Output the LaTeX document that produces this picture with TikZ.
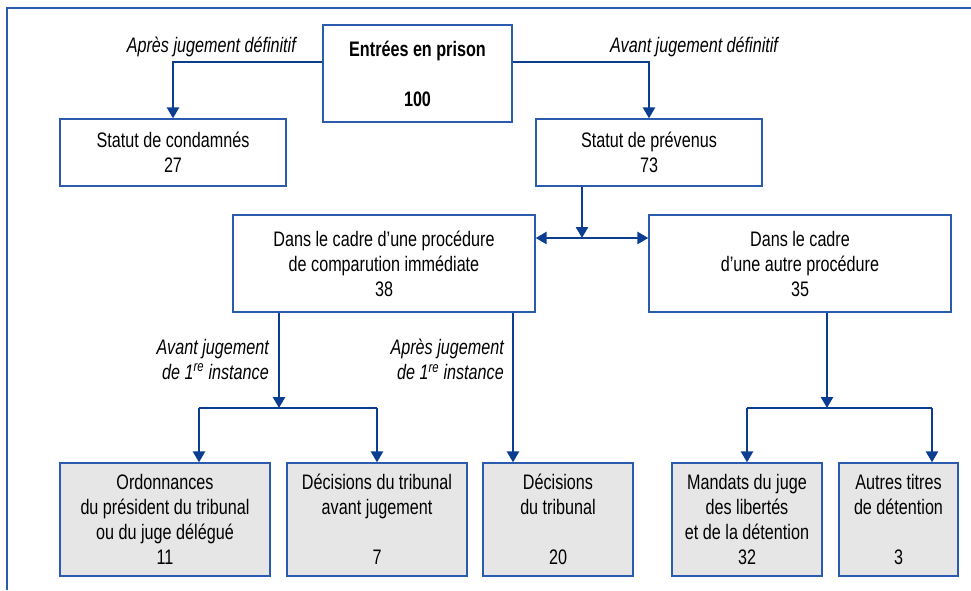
\documentclass[tikz,border=0pt]{standalone}
\usepackage{fontspec}
\setmainfont{Liberation Sans}[FakeStretch=0.77]
\usetikzlibrary{arrows.meta}
\definecolor{bleucadre}{HTML}{2B5BAE}
\definecolor{bleufleche}{HTML}{0B3D91}
\definecolor{grisboite}{HTML}{E6E6E6}

\begin{document}
\begin{tikzpicture}[x=1pt,y={(0pt,-1pt)}]
    \tikzset{boite/.style={draw=bleucadre, line width=1.3pt, fill=white,
        align=center, inner sep=0pt, font=\fontsize{21}{25}\selectfont}}
    \tikzset{boitegrise/.style={boite, fill=grisboite}}
    \tikzset{trait/.style={draw=bleufleche, line width=2.6pt}}
    \tikzset{fleche/.style={trait, -{Triangle[length=11pt,width=12pt]}}}
    \tikzset{etiquette/.style={inner sep=0pt, font=\fontsize{21}{25}\selectfont\itshape}}
    \useasboundingbox (0,0) rectangle (971,590);
    \draw[bleucadre, line width=2pt] (7,590) -- (7,8) -- (971,8);
    % premier niveau
    \node[boite, font=\fontsize{21}{25}\selectfont\bfseries, minimum width=189pt, minimum height=97pt]
      (entree) at (417.5,73.5) {Entrées en prison\\[25pt]100};
    \node[boite, minimum width=226pt, minimum height=67pt]
      (condamnes) at (173,152.5) {Statut de condamnés\\27};
    \node[boite, minimum width=226pt, minimum height=67pt]
      (prevenus) at (649,152.5) {Statut de prévenus\\73};
    \node[etiquette, anchor=east] (apresdef) at (296,47) {Après jugement définitif};
    \node[etiquette, anchor=west] (avantdef) at (610,47) {Avant jugement définitif};
    \draw[fleche] (entree.west |- 0,62) -| (condamnes.north);
    \draw[fleche] (entree.east |- 0,62) -| (prevenus.north);
    % procedures
    \node[boite, minimum width=302pt, minimum height=97pt]
      (comparution) at (384,263.5) {Dans le cadre d’une procédure\\de comparution immédiate\\38};
    \node[boite, minimum width=302pt, minimum height=97pt]
      (autre) at (800,263.5) {Dans le cadre\\d’une autre procédure\\35};
    \coordinate (jonction) at (582,238);
    \draw[fleche] (prevenus.south -| jonction) -- (jonction);
    \draw[fleche] (jonction) -- (comparution.east |- jonction);
    \draw[fleche] (jonction) -- (autre.west |- jonction);
    % titres de detention
    \node[boitegrise, minimum width=210pt, minimum height=113pt]
      (ordonnances) at (165,519.5) {Ordonnances\\du président du tribunal\\ou du juge délégué\\11};
    \node[boitegrise, minimum width=180pt, minimum height=113pt]
      (decavant) at (377,519.5) {Décisions du tribunal\\avant jugement\\[25pt]7};
    \node[boitegrise, minimum width=150pt, minimum height=113pt]
      (decisions) at (558,519.5) {Décisions\\du tribunal\\[25pt]20};
    \node[boitegrise, minimum width=150pt, minimum height=113pt]
      (mandats) at (747,519.5) {Mandats du juge\\des libertés\\et de la détention\\32};
    \node[boitegrise, minimum width=119pt, minimum height=113pt]
      (autres) at (898.5,519.5) {Autres titres\\de détention\\[25pt]3};
    \node[etiquette, align=right, anchor=east] (avantinst) at (269,359.5)
      {Avant jugement\\de 1\textsuperscript{re} instance};
    \node[etiquette, align=right, anchor=east] (apresinst) at (504,359.5)
      {Après jugement\\de 1\textsuperscript{re} instance};
    \coordinate (brancheA) at (279,408);
    \coordinate (gaucheA) at (199,408);
    \coordinate (droiteA) at (377,408);
    \draw[fleche] (comparution.south -| brancheA) -- (brancheA);
    \draw[trait] (gaucheA) -- (droiteA);
    \draw[fleche] (gaucheA) -- (ordonnances.north -| gaucheA);
    \draw[fleche] (droiteA) -- (decavant.north -| droiteA);
    \coordinate (apres) at (513,400);
    \draw[fleche] (comparution.south -| apres) -- (decisions.north -| apres);
    \coordinate (brancheB) at (827,408);
    \coordinate (gaucheB) at (747,408);
    \coordinate (droiteB) at (932,408);
    \draw[fleche] (autre.south -| brancheB) -- (brancheB);
    \draw[trait] (gaucheB) -- (droiteB);
    \draw[fleche] (gaucheB) -- (mandats.north -| gaucheB);
    \draw[fleche] (droiteB) -- (autres.north -| droiteB);
  \end{tikzpicture}
\end{document}
